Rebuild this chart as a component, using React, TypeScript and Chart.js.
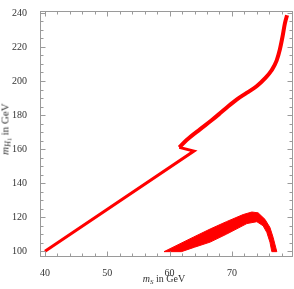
import React, { useEffect, useRef } from "react";
import { Chart, registerables } from "chart.js";

Chart.register(...registerables);

// Axis ticks
const xTicks = [40, 50, 60, 70];
const yTicks = [100, 120, 140, 160, 180, 200, 220, 240];
const xMinorTicks = [40, 42, 44, 46, 48, 50, 52, 54, 56, 58, 60, 62, 64, 66, 68, 70, 72, 74, 76, 78];
const yMinorTicks = [100, 105, 110, 115, 120, 125, 130, 135, 140, 145, 150, 155, 160, 165, 170, 175, 180, 185, 190, 195, 200, 205, 210, 215, 220, 225, 230, 235, 240];

// Straight lower branch with the kink
const lineX = [40, 63.9, 61.55];
const lineY = [100, 158.8, 161.0];

// Upper curved branch
const curveX = [61.55, 62.73, 64.87, 66.74, 68.08, 69.41, 70.75, 72.36, 73.96, 75.3, 76.37, 77.17, 77.7, 78.13, 78.5, 78.85];
const curveY = [161.0, 165.3, 171.6, 176.9, 181.0, 185.2, 189.1, 193.0, 196.9, 201.5, 206.3, 212.0, 218.7, 226.3, 233.9, 238.7];

// Allowed band (bottom): upper edge left->right, lower edge right->left
const bandUpperX = [59.1, 63.8, 66.5, 69.1, 71.8, 73.2, 74.2, 75.3, 76.1, 76.6, 77.2];
const bandUpperY = [99.7, 108.2, 113.0, 117.3, 121.5, 123.0, 122.5, 118.7, 113.9, 108.2, 99.7];
const bandLowerX = [76.4, 76.1, 75.6, 75.0, 74.0, 72.4, 69.15, 66.5, 64.0, 61.9];
const bandLowerY = [99.7, 105.3, 111.0, 114.9, 117.3, 116.2, 110.0, 105.3, 102.3, 99.7];

const RED = "#ff0000";
const FRAME = "#9a9a9a";
const LABEL = "#333333";
const FONT = "'Liberation Serif', 'DejaVu Serif', serif";

const frameTicks = {
  id: "frameTicks",
  afterDraw(chart: any) {
    const { ctx, chartArea: a, scales } = chart;
    const sx = scales.x;
    const sy = scales.y;
    ctx.save();
    ctx.strokeStyle = FRAME;
    ctx.lineWidth = 1;
    const seg = (x1: number, y1: number, x2: number, y2: number) => {
      ctx.beginPath();
      ctx.moveTo(x1, y1);
      ctx.lineTo(x2, y2);
      ctx.stroke();
    };
    const L = Math.round(a.left) + 0.5;
    const R = Math.round(a.right) - 0.5;
    const T = Math.round(a.top) + 0.5;
    const B = Math.round(a.bottom) + 0.5;
    ctx.strokeRect(L, T, R - L, B - T);
    for (const v of xMinorTicks) {
      const p = Math.round(sx.getPixelForValue(v)) + 0.5;
      const len = xTicks.includes(v) ? 5 : 3;
      seg(p, B, p, B - len);
      seg(p, T, p, T + len);
    }
    for (const v of yMinorTicks) {
      const p = Math.round(sy.getPixelForValue(v)) + 0.5;
      const len = yTicks.includes(v) ? 5 : 3;
      seg(L, p, L + len, p);
      seg(R, p, R - len, p);
    }
    ctx.restore();
  },
};

export default function App() {
  const ref = useRef<HTMLCanvasElement | null>(null);

  useEffect(() => {
    if (!ref.current) return;
    const band = [
      ...bandUpperX.map((x, i) => ({ x, y: bandUpperY[i] })),
      ...bandLowerX.map((x, i) => ({ x, y: bandLowerY[i] })),
    ];
    band.push({ ...band[0] });
    const line = lineX.map((x, i) => ({ x, y: lineY[i] }));
    const curve = curveX.map((x, i) => ({ x, y: curveY[i] }));

    const chart = new Chart(ref.current, {
      type: "scatter",
      data: {
        datasets: [
          {
            data: band,
            showLine: true,
            fill: "shape",
            backgroundColor: RED,
            borderColor: RED,
            borderWidth: 1,
            pointRadius: 0,
            tension: 0,
          } as any,
          {
            data: line,
            showLine: true,
            fill: false,
            borderColor: RED,
            borderWidth: 3,
            pointRadius: 0,
            tension: 0,
          },
          {
            data: curve,
            showLine: true,
            fill: false,
            borderColor: RED,
            borderWidth: 4,
            pointRadius: 0,
            cubicInterpolationMode: "monotone",
            borderJoinStyle: "round",
          },
        ],
      },
      options: {
        animation: false,
        responsive: false,
        devicePixelRatio: 1,
        layout: { padding: { top: 4, right: 1, left: 0, bottom: 0 } },
        plugins: {
          legend: { display: false },
          tooltip: { enabled: false },
        },
        scales: {
          x: {
            type: "linear",
            min: 39.2,
            max: 79.8,
            grid: { display: false },
            border: { display: false },
            ticks: {
              color: LABEL,
              font: { family: FONT, size: 10 },
              padding: 3,
              maxRotation: 0,
              autoSkip: false,
            },
            afterBuildTicks: (s: any) => {
              s.ticks = xTicks.map((v) => ({ value: v }));
            },
            afterFit: (s: any) => {
              s.height = 33;
            },
          },
          y: {
            type: "linear",
            min: 97.14,
            max: 241.14,
            grid: { display: false },
            border: { display: false },
            ticks: {
              color: LABEL,
              font: { family: FONT, size: 10 },
              padding: 5,
              autoSkip: false,
            },
            afterBuildTicks: (s: any) => {
              s.ticks = yTicks.map((v) => ({ value: v }));
            },
            afterFit: (s: any) => {
              s.width = 40;
            },
          },
        },
      },
      plugins: [frameTicks],
    });
    return () => chart.destroy();
  }, []);

  const titleStyle: React.CSSProperties = {
    position: "absolute",
    fontFamily: FONT,
    fontSize: "10px",
    lineHeight: "12px",
    color: LABEL,
    whiteSpace: "nowrap",
  };

  return (
    <div style={{ position: "absolute", left: 0, top: 0, width: 294, height: 289 }}>
      <canvas ref={ref} width={294} height={289} style={{ display: "block" }} />
      <div style={{ ...titleStyle, left: 114, width: 100, top: 273, textAlign: "center" }}>
        <i>m</i>
        <sub style={{ fontSize: "7px", verticalAlign: "-2px" }}>
          <i>S</i>
        </sub>{" "}
        in GeV
      </div>
      <div
        style={{
          ...titleStyle,
          fontSize: "11px",
          left: 7,
          top: 129,
          transform: "translate(-50%, -50%) rotate(-90deg)",
        }}
      >
        <i>m</i>
        <sub style={{ fontSize: "8px", verticalAlign: "-2px" }}>
          <i>H</i>
          <sub style={{ fontSize: "6px", verticalAlign: "-1px" }}>1</sub>
        </sub>{" "}
        in GeV
      </div>
    </div>
  );
}
